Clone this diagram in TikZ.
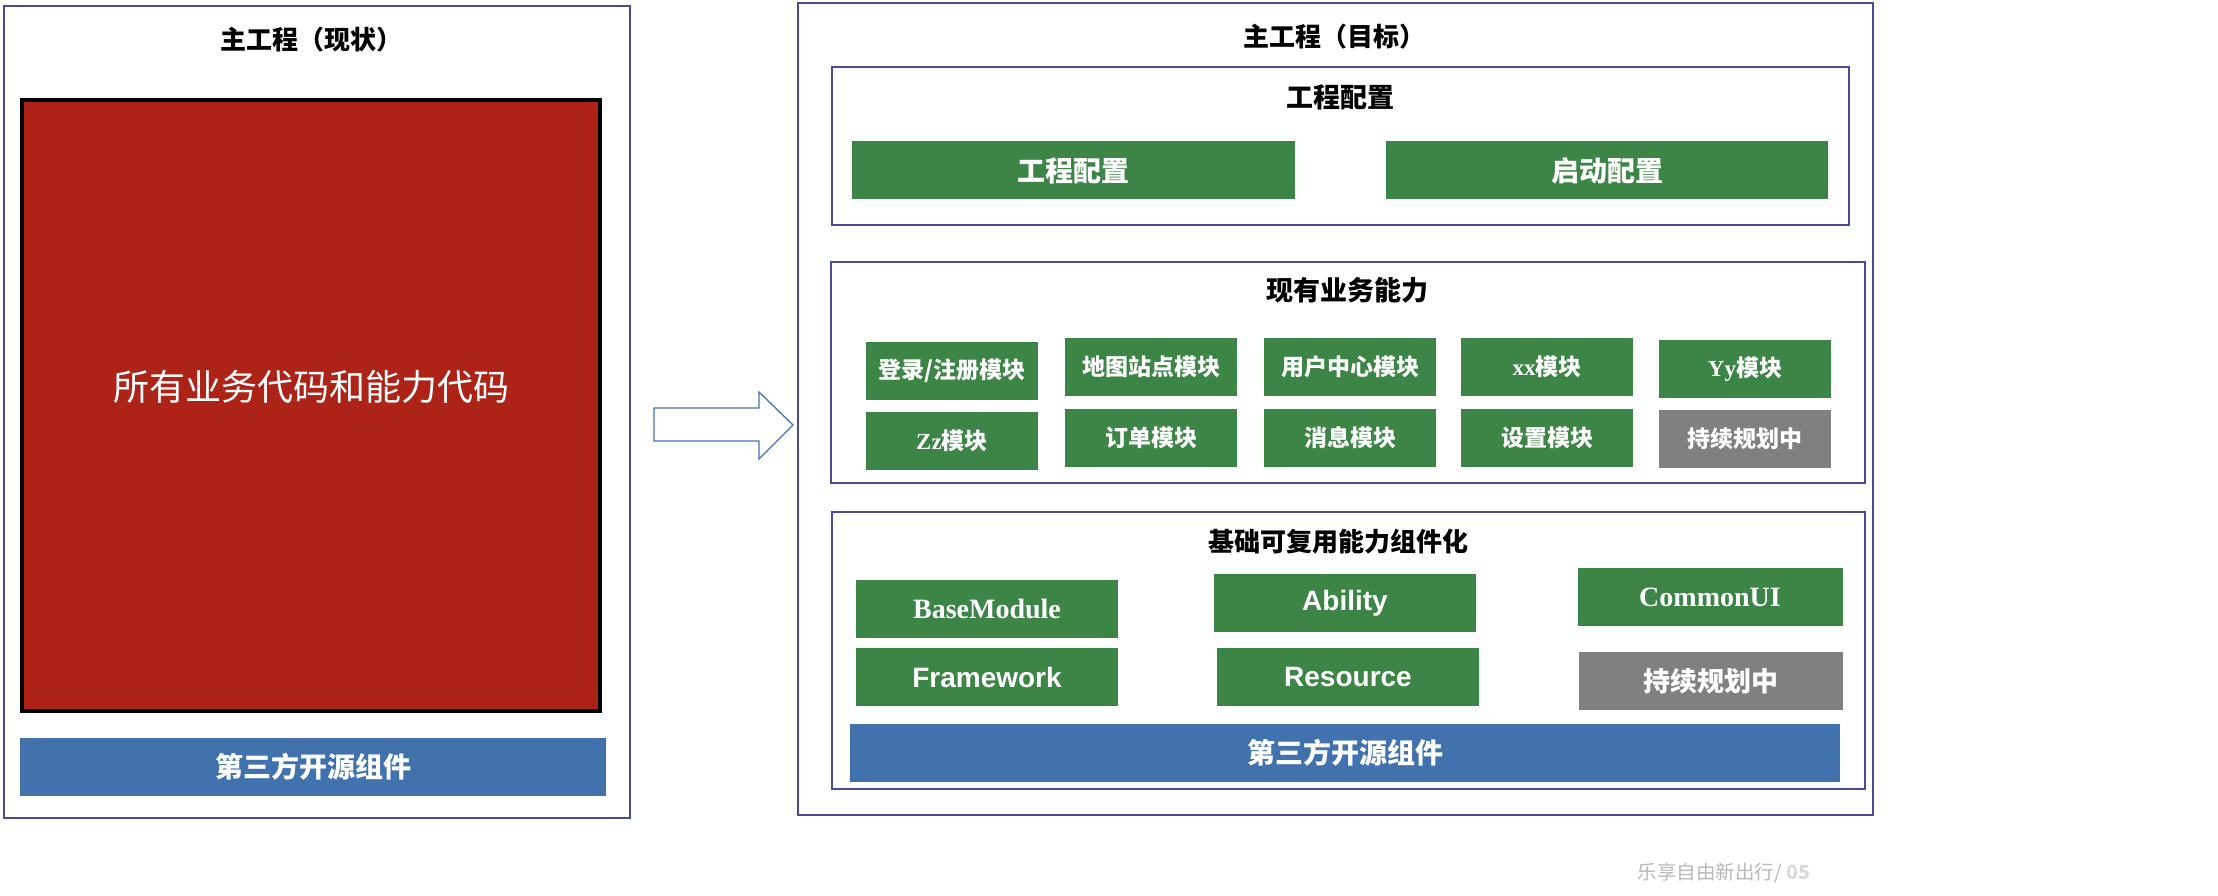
\documentclass[tikz,border=0pt]{standalone}
\usepackage{fontspec}
\setmainfont{Liberation Serif}
\newfontfamily\cjk{Noto Sans CJK SC}
\newfontfamily\sans{Liberation Sans}
\usepackage{tikz}
\usetikzlibrary{positioning}

\definecolor{framec}{HTML}{4A4A9B}
\definecolor{codered}{HTML}{AD2318}
\definecolor{modgreen}{HTML}{3C8546}
\definecolor{libblue}{HTML}{4272AE}
\definecolor{plangray}{HTML}{808080}
\definecolor{arrowc}{HTML}{4472C4}
\newcommand\fsz[1]{\fontsize{#1}{#1}\selectfont}
\newcommand\lat[1]{{\rmfamily\bfseries #1}}

\begin{document}
\begin{tikzpicture}[
    x=1pt, y=-1pt,
    framebox/.style={draw=framec, line width=2pt, inner sep=0pt},
    ttl/.style={font=\cjk\bfseries\fsz{26}},
    secttl/.style={font=\cjk\bfseries\fsz{27}},
    tile/.style={fill=modgreen, text=white, inner sep=0pt, minimum height=58pt},
    mod/.style={tile, minimum width=172pt, font=\cjk\bfseries\fsz{23}},
    base/.style={tile, minimum width=262pt, font=\sans\bfseries\fsz{28}},
    libbar/.style={tile, fill=libblue, font=\cjk\bfseries\fsz{28}}
  ]
    \useasboundingbox (0,0) rectangle (2218,896);

    % current project
    \node[framebox, minimum width=626pt, minimum height=812pt] (cur) at (317,412) {};
    \node[ttl] (curttl) at (311,40) {主工程（现状）};
    \node[draw=black, line width=4pt, fill=codered, minimum width=578pt, minimum height=611pt] (code) at (311,405.5) {};
    \node[text=white, font=\cjk\fsz{36}] (codetxt) at (311,387) {所有业务代码和能力代码};
    \node[libbar, minimum width=586pt] (curlib) at (313,767) {第三方开源组件};

    % arrow
    \draw[draw=arrowc, line width=1.3pt, line join=miter]
      (654,408) -- (759,408) -- (759,392) -- (793,425) -- (759,459) -- (759,441) -- (654,441) -- cycle;

    % target project
    \node[framebox, minimum width=1075pt, minimum height=811pt] (tgt) at (1335,409) {};
    \node[ttl] (tgtttl) at (1334,37) {主工程（目标）};

    \node[framebox, minimum width=1017pt, minimum height=157pt] (cfg) at (1340,146) {};
    \node[secttl] (cfgttl) at (1340,97.5) {工程配置};
    \node[tile, minimum width=443pt, font=\cjk\bfseries\fsz{28}] (cfga) at (1073.5,170.5) {工程配置};
    \node[tile, minimum width=442pt, font=\cjk\bfseries\fsz{28}] (cfgb) at (1607,170.5) {启动配置};

    \node[framebox, minimum width=1034pt, minimum height=221pt] (biz) at (1348,372) {};
    \node[secttl] (bizttl) at (1347,290) {现有业务能力};
    \node[mod] (m1) at (952,371) {登录/注册模块};
    \node[mod] (m2) at (1151,367) {地图站点模块};
    \node[mod] (m3) at (1350,367) {用户中心模块};
    \node[mod] (m4) at (1547,367) {\lat{xx}模块};
    \node[mod] (m5) at (1745,369) {\lat{Yy}模块};
    \node[mod] (m6) at (952,440.5) {\lat{Zz}模块};
    \node[mod] (m7) at (1151,437.5) {订单模块};
    \node[mod] (m8) at (1350,437.5) {消息模块};
    \node[mod] (m9) at (1547,437.5) {设置模块};
    \node[mod, fill=plangray] (m10) at (1745,438.5) {持续规划中};

    \node[framebox, minimum width=1033pt, minimum height=277pt] (cmp) at (1348,650) {};
    \node[secttl, font=\cjk\bfseries\fsz{26}] (cmpttl) at (1338,541.5) {基础可复用能力组件化};
    \node[base, font=\rmfamily\bfseries\fsz{28}] (c1) at (987,609) {BaseModule};
    \node[base] (c2) at (1345,603) {Ability};
    \node[base, minimum width=265pt, font=\rmfamily\bfseries\fsz{28}] (c3) at (1710,597) {CommonUI};
    \node[base] (c4) at (987,677) {Framework};
    \node[base] (c5) at (1348,677) {Resource};
    \node[base, minimum width=264pt, fill=plangray, font=\cjk\bfseries\fsz{27}] (c6) at (1711,681) {持续规划中};
    \node[libbar, minimum width=990pt] (tgtlib) at (1345,753) {第三方开源组件};

    % footer
    \node[font=\cjk\fsz{19.5}, text=black!28] (foot) at (1724,873) {乐享自由新出行/ {\bfseries\color{black!15}05}};
\end{tikzpicture}
\end{document}
